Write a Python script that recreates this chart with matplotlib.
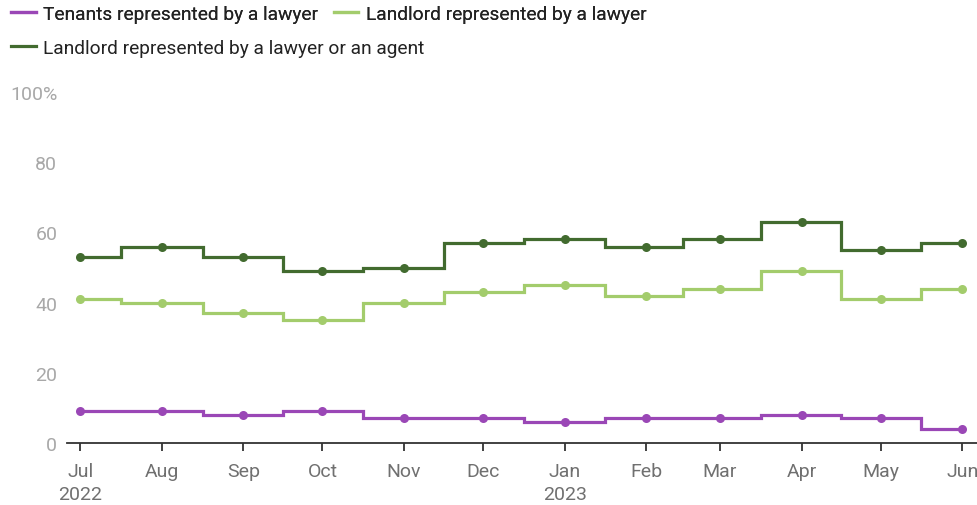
import datetime as dt
import matplotlib
matplotlib.use("Agg")
import matplotlib.pyplot as plt

plt.rcParams['font.family'] = ['Roboto', 'DejaVu Sans']

# monthly share of eviction cases with representation (%)
months = [dt.date(2022, 7, 1), dt.date(2022, 8, 1), dt.date(2022, 9, 1), dt.date(2022, 10, 1),
          dt.date(2022, 11, 1), dt.date(2022, 12, 1), dt.date(2023, 1, 1), dt.date(2023, 2, 1),
          dt.date(2023, 3, 1), dt.date(2023, 4, 1), dt.date(2023, 5, 1), dt.date(2023, 6, 1)]
month_labels = ["Jul\n2022", "Aug", "Sep", "Oct", "Nov", "Dec", "Jan\n2023",
                "Feb", "Mar", "Apr", "May", "Jun"]
tenants_lawyer = [9, 9, 8, 9, 7, 7, 6, 7, 7, 8, 7, 4]
landlord_lawyer = [41, 40, 37, 35, 40, 43, 45, 42, 44, 49, 41, 44]
landlord_lawyer_agent = [53, 56, 53, 49, 50, 57, 58, 56, 58, 63, 55, 57]

series = [
    ("Tenants represented by a lawyer", tenants_lawyer, "#9a47b6"),
    ("Landlord represented by a lawyer", landlord_lawyer, "#a3cc6c"),
    ("Landlord represented by a lawyer or an agent", landlord_lawyer_agent, "#426b2f"),
]

fig = plt.figure(figsize=(9.78, 5.06), dpi=100)
ax = fig.add_axes([0.0685, 0.1225, 0.9315, 0.6935])

handles = []
for name, vals, col in series:
    ln, = ax.plot(months, vals, drawstyle="steps-mid", color=col, lw=2.3,
                  solid_joinstyle="miter", label=name)
    ax.plot(months, vals, "o", color=col, ms=6.5, markeredgewidth=0)
    handles.append(ln)

ax.set_ylim(0, 100)
ax.set_xlim(months[0] - dt.timedelta(days=5.7), months[-1] + dt.timedelta(days=6))
ax.set_yticks([0, 20, 40, 60, 80, 100])
ax.set_yticklabels(["0", "20", "40", "60", "80", "100%"])
ax.set_xticks(months)
ax.set_xticklabels(month_labels, linespacing=1.3)

for s in ["top", "right", "left"]:
    ax.spines[s].set_visible(False)
ax.spines["bottom"].set_color("#333333")
ax.spines["bottom"].set_linewidth(1.3)
ax.tick_params(axis="y", length=0, pad=7, labelsize=14, labelcolor="#a8a8a8")
ax.tick_params(axis="x", length=6, width=1.3, color="#333333", pad=8,
               labelsize=14, labelcolor="#707070")

leg_kw = dict(loc="upper left", frameon=False, fontsize=13.8, handlelength=1.3,
              handletextpad=0.4, labelcolor="#222222", borderaxespad=0)
leg1 = fig.legend(handles=handles[:2], bbox_to_anchor=(0.003, 1.004), ncol=2,
                  columnspacing=0.8, **leg_kw)
fig.legend(handles=handles[2:], bbox_to_anchor=(0.003, 0.937), **leg_kw)
fig.add_artist(leg1)

fig.savefig("out.png", dpi=100)
